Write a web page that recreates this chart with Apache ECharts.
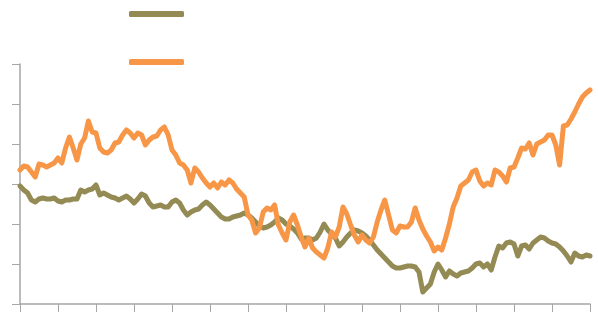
<!DOCTYPE html>
<html>
<head>
<meta charset="utf-8">
<script src="https://cdn.jsdelivr.net/npm/echarts@6/dist/echarts.min.js"></script>
<style>
  html, body { margin: 0; padding: 0; background: #fff; }
  #chart { width: 598px; height: 312px; }
</style>
</head>
<body>
<div id="chart"></div>
<script>
// 151 observations, a tick every 10
const categories = Array.from({ length: 151 }, (_, i) => String(i));

const seriesNames = ['Series 1', 'Series 2'];

const olive = [
  2.95, 2.85, 2.775, 2.6, 2.55, 2.625, 2.65, 2.625, 2.625, 2.65,
  2.575, 2.55, 2.6, 2.6, 2.625, 2.625, 2.85, 2.8, 2.85, 2.875,
  2.975, 2.725, 2.775, 2.725, 2.675, 2.65, 2.6, 2.65, 2.7, 2.625,
  2.525, 2.625, 2.75, 2.7, 2.525, 2.425, 2.45, 2.475, 2.425, 2.425,
  2.55, 2.6, 2.525, 2.35, 2.225, 2.3, 2.35, 2.375, 2.475, 2.55,
  2.475, 2.375, 2.275, 2.175, 2.125, 2.125, 2.175, 2.2, 2.225, 2.275,
  2.225, 2.15, 2.05, 1.95, 1.9, 1.925, 1.975, 2.05, 2.15, 2.1,
  2.0, 1.95, 1.875, 1.775, 1.625, 1.65, 1.65, 1.6, 1.65, 1.8,
  2.0, 1.85, 1.75, 1.65, 1.45, 1.55, 1.675, 1.775, 1.85, 1.825,
  1.775, 1.7, 1.6, 1.475, 1.35, 1.25, 1.15, 1.05, 0.95, 0.9,
  0.9, 0.925, 0.95, 0.95, 0.925, 0.8, 0.3, 0.4, 0.5, 0.8,
  1.0, 0.85, 0.675, 0.825, 0.75, 0.7, 0.775, 0.8, 0.825, 0.9,
  1.0, 1.025, 0.925, 1.0, 0.85, 1.175, 1.45, 1.4, 1.525, 1.55,
  1.5, 1.2, 1.45, 1.475, 1.375, 1.525, 1.6, 1.675, 1.65, 1.575,
  1.525, 1.5, 1.425, 1.325, 1.2, 1.05, 1.275, 1.2, 1.175, 1.225,
  1.2
];

const orange = [
  3.35, 3.45, 3.425, 3.3, 3.175, 3.5, 3.475, 3.425, 3.475, 3.525,
  3.65, 3.525, 3.9, 4.175, 3.9, 3.6, 4.0, 4.15, 4.575, 4.3,
  4.275, 3.9, 3.8, 3.775, 3.85, 4.025, 4.05, 4.225, 4.35, 4.275,
  4.15, 4.275, 4.225, 3.975, 4.1, 4.175, 4.2, 4.35, 4.425, 4.225,
  3.85, 3.725, 3.525, 3.475, 3.35, 3.025, 3.4, 3.3, 3.15, 3.025,
  2.925, 3.025, 2.9, 3.05, 2.975, 3.1, 3.025, 2.875, 2.775, 2.675,
  2.225, 2.1, 1.775, 1.9, 2.3, 2.4, 2.35, 2.475, 1.975, 1.775,
  1.6, 2.05, 2.225, 1.975, 1.675, 1.425, 1.65, 1.4, 1.3, 1.225,
  1.15, 1.4, 1.8, 1.675, 1.925, 2.425, 2.25, 1.975, 1.725, 1.55,
  1.725, 1.6, 1.525, 1.675, 2.05, 2.35, 2.6, 2.225, 1.85, 1.775,
  1.95, 1.925, 1.925, 2.05, 2.4, 2.1, 1.875, 1.7, 1.55, 1.325,
  1.425, 1.35, 1.65, 2.0, 2.425, 2.65, 2.95, 3.025, 3.1, 3.3,
  3.35, 3.075, 2.95, 3.025, 2.975, 3.35, 3.3, 3.2, 3.05, 3.4,
  3.425, 3.65, 3.9, 3.875, 4.025, 3.725, 4.0, 4.05, 4.1, 4.225,
  4.225, 3.975, 3.475, 4.45, 4.475, 4.625, 4.8, 5.0, 5.175, 5.275,
  5.35
];

const colors = ['#948A54', '#F79646'];
const axisColor = '#A6A6A6';

const chart = echarts.init(document.getElementById('chart'));

chart.setOption({
  animation: false,
  color: colors,
  legend: {
    orient: 'vertical',
    left: 124,
    top: 6,
    icon: 'roundRect',
    itemWidth: 55,
    itemHeight: 6,
    itemGap: 42,
    formatter: () => '',
    data: seriesNames
  },
  grid: {
    left: 20,
    right: 8,
    top: 64,
    bottom: 8,
    containLabel: false
  },
  xAxis: {
    type: 'category',
    data: categories,
    boundaryGap: false,
    axisLine: { lineStyle: { color: axisColor, width: 1.5 } },
    axisTick: { interval: 9, length: 8, lineStyle: { color: axisColor, width: 1 } },
    axisLabel: { show: false },
    splitLine: { show: false }
  },
  yAxis: {
    type: 'value',
    min: 0,
    max: 6,
    interval: 1,
    axisLine: { show: true, lineStyle: { color: axisColor, width: 1.5 } },
    axisTick: { show: true, length: 8, lineStyle: { color: axisColor, width: 1 } },
    axisLabel: { show: false },
    splitLine: { show: false }
  },
  series: [
    {
      name: seriesNames[0],
      type: 'line',
      data: olive,
      symbol: 'none',
      lineStyle: { width: 5, color: colors[0], join: 'round', cap: 'round' }
    },
    {
      name: seriesNames[1],
      type: 'line',
      data: orange,
      symbol: 'none',
      lineStyle: { width: 5, color: colors[1], join: 'round', cap: 'round' }
    }
  ]
});
</script>
</body>
</html>
